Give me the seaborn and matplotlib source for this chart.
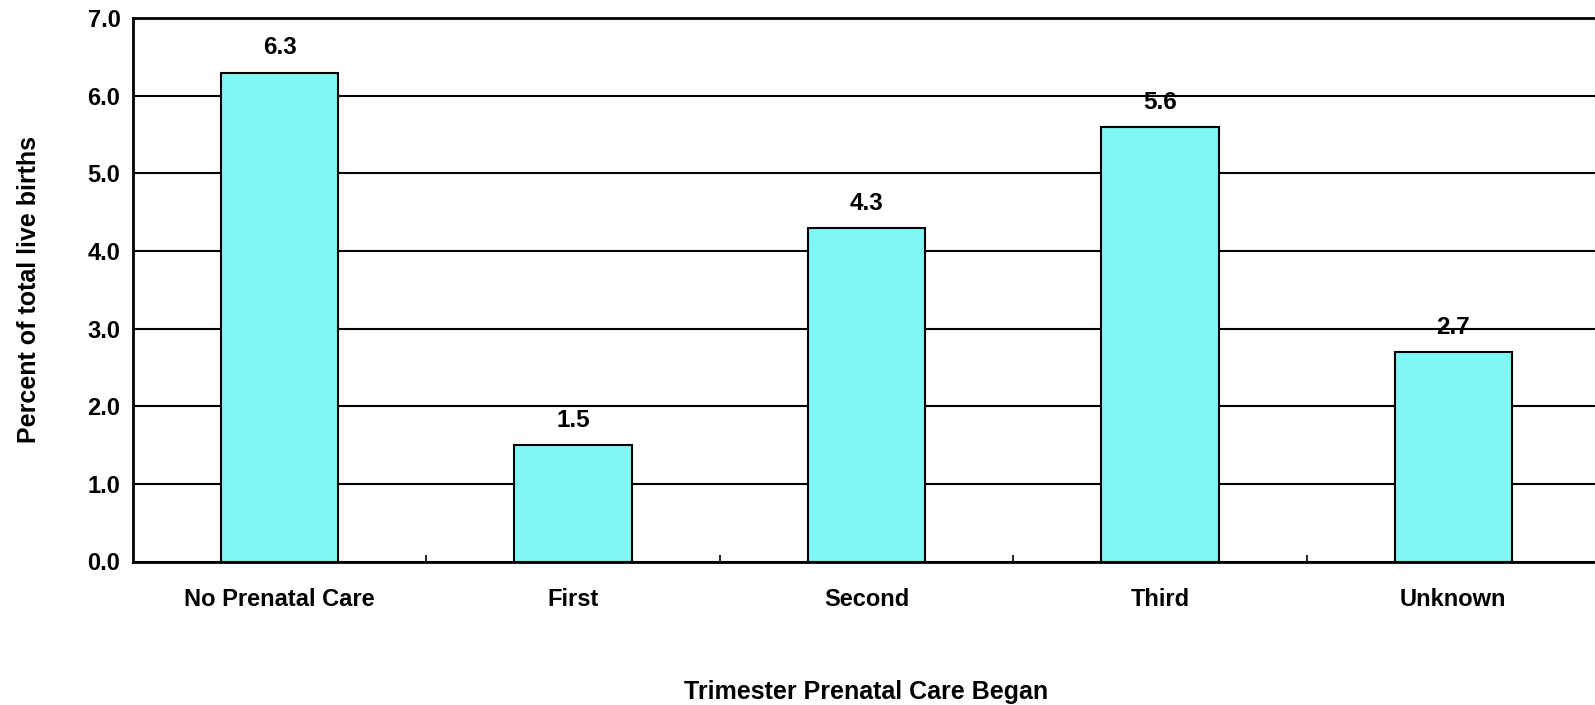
import matplotlib
matplotlib.use("Agg")
import matplotlib.pyplot as plt
import seaborn as sns
import pandas as pd

categories = ["No Prenatal Care", "First", "Second", "Third", "Unknown"]
values = [6.3, 1.5, 4.3, 5.6, 2.7]
yticks = [0.0, 1.0, 2.0, 3.0, 4.0, 5.0, 6.0, 7.0]

df = pd.DataFrame({"cat": categories, "val": values})

sns.set_theme(style="white")
plt.rcParams['font.family'] = ['Liberation Sans', 'DejaVu Sans']
plt.rcParams['font.weight'] = 'bold'
plt.rcParams['text.color'] = 'black'
plt.rcParams['axes.labelcolor'] = 'black'
plt.rcParams['xtick.color'] = 'black'
plt.rcParams['ytick.color'] = 'black'

fig = plt.figure(figsize=(15.95, 7.05), dpi=100)
ax = fig.add_axes([133/1595, 1 - 561.5/705, (1600-133)/1595, (561.5-18.3)/705])

sns.barplot(data=df, x="cat", y="val", color="#80f6f6", saturation=1,
            width=0.4, edgecolor="black", linewidth=1.5, ax=ax, zorder=3)

ax.set_ylim(0, 7)
ax.set_xlim(-0.5, len(categories) - 0.5)
ax.set_yticks(yticks)
ax.set_yticklabels([f"{v:.1f}" for v in yticks], fontsize=17, fontweight='bold', color='black')
ax.set_xticks(range(len(categories)))
ax.set_xticklabels(categories, fontsize=17, fontweight='bold', color='black')
ax.tick_params(axis='x', direction='in', length=5, width=1.2, color='black', pad=19)
ax.tick_params(axis='y', length=0, pad=9)
ax.set_xticks([i + 0.5 for i in range(len(categories) - 1)], minor=True)
ax.tick_params(axis='x', which='minor', direction='in', length=5, width=1.2, color='black', bottom=True)

ax.yaxis.grid(True, color='black', linewidth=1.5, zorder=1)
ax.set_axisbelow(True)
for s in ['left', 'bottom', 'top']:
    ax.spines[s].set_color('black')
    ax.spines[s].set_linewidth(2)
ax.spines['right'].set_visible(False)

for i, v in enumerate(values):
    ax.text(i, v + 0.17, f"{v:.1f}", ha='center', va='bottom', fontsize=17.5,
            fontweight='bold', color='black')

ax.set_ylabel("Percent of total live births", fontsize=18, fontweight='bold', color='black')
ax.set_xlabel("Trimester Prenatal Care Began", fontsize=18, fontweight='bold', color='black',
              labelpad=50)
ax.yaxis.set_label_coords(-0.063, 0.5)

fig.savefig("out.png", dpi=100)
